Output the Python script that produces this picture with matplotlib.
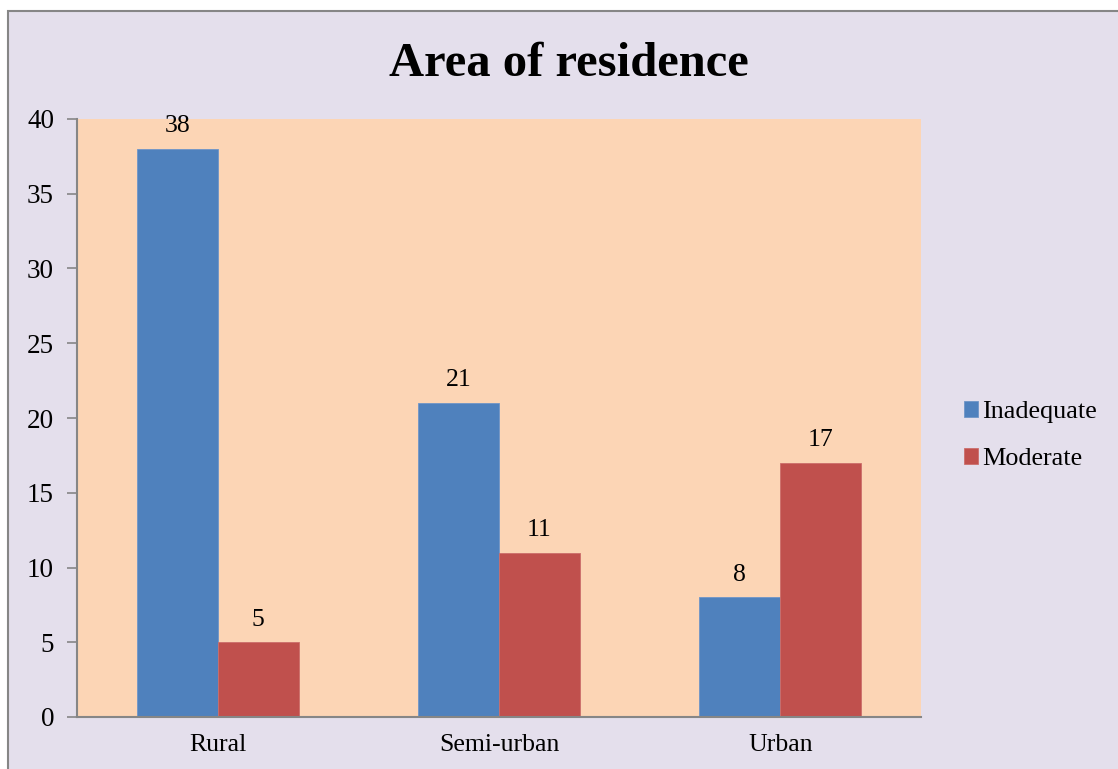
import numpy as np
import matplotlib.pyplot as plt
from matplotlib.patches import Rectangle

plt.rcParams['font.family'] = ['Liberation Serif', 'DejaVu Serif']

# Data
categories = ['Rural', 'Semi-urban', 'Urban']
inadequate = [38, 21, 8]
moderate = [5, 11, 17]
series_names = ['Inadequate', 'Moderate']

blue = '#4F81BD'
red = '#C0504D'
peach = '#FCD5B5'
lavender = '#E4DFEC'
axis_grey = '#868686'

fig = plt.figure(figsize=(11.18, 7.69), dpi=100)
fig.patch.set_facecolor('white')

# Chart background panel with thin grey border
panel = Rectangle((8 / 1118, -0.05), 1.1, 1 - 11 / 769 + 0.05,
                  transform=fig.transFigure, facecolor=lavender,
                  edgecolor=axis_grey, linewidth=1.5, zorder=-10)
fig.patches.append(panel)

ax = fig.add_axes([77 / 1118, 1 - 717 / 769, 844 / 1118, (717 - 119) / 769])
ax.set_facecolor(peach)

x = np.arange(len(categories))
width = 0.288
b1 = ax.bar(x - width / 2, inadequate, width, color=blue, label=series_names[0],
            edgecolor='#6F95C8', linewidth=0.6)
b2 = ax.bar(x + width / 2, moderate, width, color=red, label=series_names[1],
            edgecolor='#CC6E6B', linewidth=0.6)

for bars, vals in [(b1, inadequate), (b2, moderate)]:
    for rect, v in zip(bars, vals):
        ax.annotate(str(v), (rect.get_x() + rect.get_width() / 2, v),
                    xytext=(0, 12), textcoords='offset points',
                    ha='center', va='baseline', fontsize=18.5)

ax.set_xlim(-0.5, 2.5)
ax.set_ylim(0, 40)
ax.set_yticks(range(0, 41, 5))
ax.set_xticks(x)
ax.set_xticklabels(categories)
ax.tick_params(axis='y', labelsize=19.5, length=7, width=1.2, color=axis_grey, pad=9.5)
ax.tick_params(axis='x', labelsize=18.5, length=0, pad=12)

for side in ['top', 'right']:
    ax.spines[side].set_visible(False)
for side in ['left', 'bottom']:
    ax.spines[side].set_color(axis_grey)
    ax.spines[side].set_linewidth(1.5)

fig.text(0.5085, 1 - 64 / 769, 'Area of residence', ha='center', va='center',
         fontsize=35, fontweight='bold')

ax.legend(loc='center left', bbox_to_anchor=(964 / 1118, 1 - 435.5 / 769),
          bbox_transform=fig.transFigure, frameon=False, fontsize=18.8,
          handlelength=0.55, handleheight=0.55, handletextpad=0.15,
          labelspacing=0.95, borderpad=0, borderaxespad=0)

fig.savefig('out.png', dpi=100)
